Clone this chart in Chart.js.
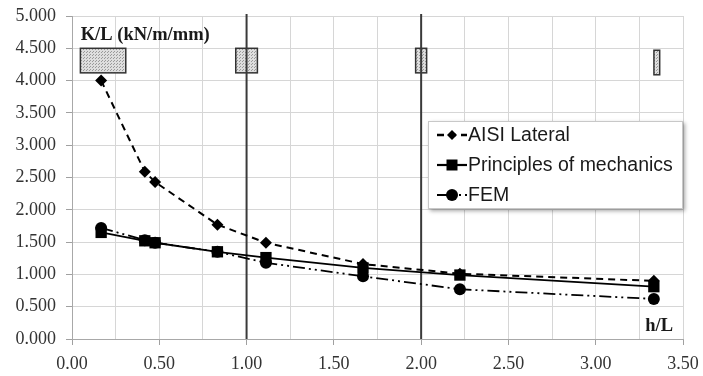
<!DOCTYPE html>
<html>
<head>
<meta charset="utf-8">
<script src="https://cdn.jsdelivr.net/npm/chart.js@4.4.0/dist/chart.umd.min.js"></script>
<style>
  html, body { margin: 0; padding: 0; background: #fff; }
</style>
</head>
<body>
<canvas id="chart" width="703" height="376"></canvas>
<script>
// data
const hOverL = [0.167, 0.417, 0.476, 0.833, 1.111, 1.667, 2.222, 3.333];
const aisiLateral = [4.00, 2.59, 2.43, 1.77, 1.49, 1.16, 1.01, 0.90];
const principles = [1.65, 1.52, 1.49, 1.35, 1.26, 1.10, 0.99, 0.81];
const fem = [1.72, 1.53, 1.49, 1.35, 1.18, 0.97, 0.77, 0.62];
const seriesNames = ['AISI Lateral', 'Principles of mechanics', 'FEM'];

// reference lines and the little wall sketches (data units)
const refLines = [1, 2];
const boxCenter = [0.178, 1.0, 2.0, 3.35];
const boxWidth = [0.26, 0.124, 0.063, 0.033];
const boxTop = [4.5, 4.5, 4.5, 4.47];
const boxBottom = [4.12, 4.12, 4.12, 4.09];

const yTitle = 'K/L (kN/m/mm)';
const xTitle = 'h/L';

const toPts = (ys) => ys.map((y, i) => ({ x: hOverL[i], y: y }));

function stipple(ctx) {
  const c = document.createElement('canvas');
  c.width = 3; c.height = 3;
  const p = c.getContext('2d');
  p.fillStyle = '#dedede';
  p.fillRect(0, 0, 3, 3);
  p.fillStyle = '#9a9a9a';
  p.fillRect(0, 0, 1, 1);
  p.fillRect(2, 1, 1, 1);
  return ctx.createPattern(c, 'repeat');
}

const extras = {
  id: 'extras',
  beforeDatasetsDraw(chart) {
    const { ctx, chartArea: a } = chart;
    const xs = chart.scales.x, ys = chart.scales.y;
    ctx.save();
    // sketches
    ctx.fillStyle = stipple(ctx);
    ctx.strokeStyle = '#333';
    ctx.lineWidth = 1.5;
    boxCenter.forEach((c, i) => {
      const x0 = xs.getPixelForValue(c - boxWidth[i] / 2);
      const x1 = xs.getPixelForValue(c + boxWidth[i] / 2);
      const y0 = ys.getPixelForValue(boxTop[i]);
      const y1 = ys.getPixelForValue(boxBottom[i]);
      ctx.fillRect(x0, y0, x1 - x0, y1 - y0);
      ctx.strokeRect(x0, y0, x1 - x0, y1 - y0);
    });
    // vertical lines at h/L = 1 and 2
    ctx.strokeStyle = '#3a3a3a';
    ctx.lineWidth = 2;
    refLines.forEach(v => {
      const x = xs.getPixelForValue(v);
      ctx.beginPath();
      ctx.moveTo(x, a.top - 2);
      ctx.lineTo(x, a.bottom);
      ctx.stroke();
    });
    // axis titles inside the plot
    ctx.fillStyle = '#1a1a1a';
    ctx.font = 'bold 18.5px "Liberation Serif", serif';
    ctx.textBaseline = 'middle';
    ctx.textAlign = 'left';
    ctx.fillText(yTitle, xs.getPixelForValue(0.05), a.top + 19);
    ctx.textAlign = 'right';
    ctx.fillText(xTitle, a.right - 10, a.bottom - 13);
    ctx.restore();
  },
  afterDraw(chart) {
    const { ctx, chartArea: a } = chart;
    const lw = 255, lh = 88;
    const lx = a.right - lw, ly = a.top + 105;
    ctx.save();
    ctx.shadowColor = 'rgba(0,0,0,0.35)';
    ctx.shadowBlur = 4;
    ctx.shadowOffsetX = 2;
    ctx.shadowOffsetY = 2;
    ctx.fillStyle = '#fff';
    ctx.fillRect(lx, ly, lw, lh);
    ctx.shadowColor = 'transparent';
    ctx.strokeStyle = '#c8c8c8';
    ctx.lineWidth = 1;
    ctx.strokeRect(lx + 0.5, ly + 0.5, lw - 1, lh - 1);

    chart.data.datasets.forEach((ds, i) => {
      const cy = ly + 14 + i * 30;
      ctx.strokeStyle = '#000';
      ctx.fillStyle = '#000';
      ctx.lineWidth = ds.borderWidth + 0.4;
      ctx.setLineDash(ds.borderDash || []);
      ctx.beginPath();
      ctx.moveTo(lx + 9, cy);
      ctx.lineTo(lx + 39, cy);
      ctx.stroke();
      ctx.setLineDash([]);
      const mx = lx + 24;
      ctx.beginPath();
      if (ds.pointStyle === 'rectRot') {
        ctx.moveTo(mx - 5, cy); ctx.lineTo(mx, cy - 5);
        ctx.lineTo(mx + 5, cy); ctx.lineTo(mx, cy + 5);
        ctx.closePath();
      } else if (ds.pointStyle === 'rect') {
        ctx.rect(mx - 5.5, cy - 5.5, 11, 11);
      } else {
        ctx.arc(mx, cy, 6, 0, Math.PI * 2);
      }
      ctx.fill();
      ctx.fillStyle = '#1a1a1a';
      ctx.font = '19.5px "Liberation Sans", Arial, sans-serif';
      ctx.textAlign = 'left';
      ctx.textBaseline = 'middle';
      ctx.fillText(ds.label, lx + 40, cy + 1);
    });
    ctx.restore();
  }
};

const isHalf = (v) => Math.abs(v * 2 - Math.round(v * 2)) < 1e-6;

new Chart(document.getElementById('chart'), {
  type: 'scatter',
  data: {
    datasets: [
      {
        label: seriesNames[0],
        data: toPts(aisiLateral),
        showLine: true,
        borderColor: '#000',
        backgroundColor: '#000',
        borderWidth: 2,
        borderDash: [7, 5],
        pointStyle: 'rectRot',
        pointRadius: 6,
        pointBorderWidth: 0
      },
      {
        label: seriesNames[1],
        data: toPts(principles),
        showLine: true,
        borderColor: '#000',
        backgroundColor: '#000',
        borderWidth: 1.8,
        pointStyle: 'rect',
        pointRadius: 8,
        pointBorderWidth: 0
      },
      {
        label: seriesNames[2],
        data: toPts(fem),
        showLine: true,
        borderColor: '#000',
        backgroundColor: '#000',
        borderWidth: 1.8,
        borderDash: [12, 4, 2, 4, 2, 4],
        pointStyle: 'circle',
        pointRadius: 6,
        pointBorderWidth: 0
      }
    ]
  },
  options: {
    responsive: false,
    animation: false,
    layout: { padding: { top: 16, right: 20, left: 0, bottom: 0 } },
    plugins: {
      legend: { display: false },
      tooltip: { enabled: false }
    },
    scales: {
      x: {
        type: 'linear',
        min: 0,
        max: 3.5,
        afterFit: (s) => { s.height = 37; s.paddingLeft = 0; s.paddingRight = 0; },
        grid: {
          color: '#d6d6d6',
          lineWidth: 1,
          tickLength: 6,
          tickColor: (c) => isHalf(c.tick.value) ? '#a0a0a0' : 'transparent'
        },
        border: { color: '#a8a8a8' },
        ticks: {
          stepSize: 0.25,
          autoSkip: false,
          maxRotation: 0,
          padding: 8,
          color: '#333',
          font: { family: '"Liberation Serif", serif', size: 18 },
          callback: (v) => isHalf(v) ? v.toFixed(2) : ''
        }
      },
      y: {
        min: 0,
        max: 5,
        afterFit: (s) => { s.width = 72; s.paddingTop = 0; s.paddingBottom = 0; },
        grid: {
          color: '#d6d6d6',
          lineWidth: 1,
          tickLength: 6,
          tickColor: '#a0a0a0'
        },
        border: { color: '#a8a8a8' },
        ticks: {
          stepSize: 0.5,
          padding: 10,
          color: '#333',
          font: { family: '"Liberation Serif", serif', size: 18 },
          callback: (v) => v.toFixed(3)
        }
      }
    }
  },
  plugins: [extras]
});
</script>
</body>
</html>
